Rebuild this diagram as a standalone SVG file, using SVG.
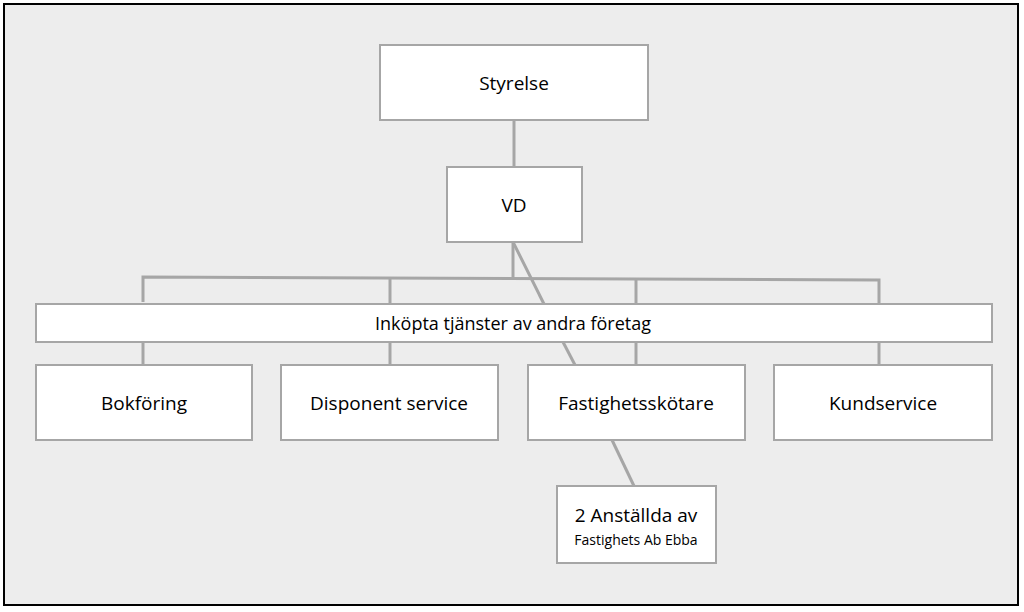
<svg xmlns="http://www.w3.org/2000/svg" width="1024" height="612" viewBox="0 0 1024 612">
<style>
.box{fill:#ffffff;stroke:#a6a6a6;stroke-width:2}
.ln{fill:none;stroke:#a6a6a6;stroke-width:3}
text{font-family:"Open Sans","Liberation Sans",sans-serif;fill:#000;text-anchor:middle}
.t{font-size:19px}
.s{font-size:18px}
.x{font-size:14px}
</style>
<rect x="4" y="4" width="1014" height="601" fill="#ededed" stroke="#000" stroke-width="2"/>
<g id="connectors">
<line class="ln" x1="514" y1="120" x2="514" y2="167"/>
<polyline class="ln" points="143,302 143,277 879,280 879,304"/>
<line class="ln" x1="513" y1="242" x2="513" y2="278"/>
<line class="ln" x1="390" y1="278" x2="390" y2="304"/>
<line class="ln" x1="636" y1="279" x2="636" y2="304"/>
<line class="ln" x1="143" y1="342" x2="143" y2="365"/>
<line class="ln" x1="390" y1="342" x2="390" y2="365"/>
<line class="ln" x1="636" y1="342" x2="636" y2="365"/>
<line class="ln" x1="879" y1="342" x2="879" y2="365"/>
<line class="ln" x1="513" y1="242" x2="544" y2="304"/>
<line class="ln" x1="563" y1="342" x2="575" y2="365"/>
<line class="ln" x1="612" y1="440" x2="634" y2="486"/>
</g>
<g id="styrelse"><rect class="box" x="380" y="45" width="268" height="75"/><text class="t" x="514" y="90">Styrelse</text></g>
<g id="vd"><rect class="box" x="447" y="167" width="135" height="75"/><text class="t" x="514" y="212">VD</text></g>
<g id="inkopta"><rect class="box" x="36" y="304" width="956" height="38"/><text class="s" x="513" y="330">Inköpta tjänster av andra företag</text></g>
<g id="bokforing"><rect class="box" x="36" y="365" width="216" height="75"/><text class="t" x="144" y="410">Bokföring</text></g>
<g id="disponent"><rect class="box" x="281" y="365" width="217" height="75"/><text class="t" x="389" y="410">Disponent service</text></g>
<g id="fastighetsskotare"><rect class="box" x="528" y="365" width="217" height="75"/><text class="t" x="636" y="410">Fastighetsskötare</text></g>
<g id="kundservice"><rect class="box" x="774" y="365" width="218" height="75"/><text class="t" x="883" y="410">Kundservice</text></g>
<g id="anstallda"><rect class="box" x="557" y="486" width="159" height="77"/><text class="t" x="636" y="522">2 Anställda av</text><text class="x" x="636" y="545">Fastighets Ab Ebba</text></g>
</svg>
